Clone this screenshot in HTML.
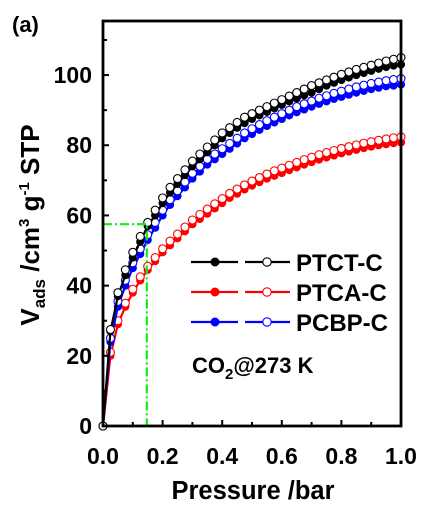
<!DOCTYPE html>
<html><head><meta charset="utf-8"><style>
body{margin:0;background:#fff}
svg text{font-family:"Liberation Sans",Arial,sans-serif;font-weight:bold}
</style></head><body>
<svg id="chart" width="435" height="513" viewBox="0 0 435 513" xmlns="http://www.w3.org/2000/svg">
<g id="plot"></g>
</svg>
<script>
const pressures=[0,0.025,0.05,0.075,0.1,0.125,0.15,0.175,0.2,0.225,0.25,0.275,0.3,0.325,0.35,0.375,0.4,0.425,0.45,0.475,0.5,0.525,0.55,0.575,0.6,0.625,0.65,0.675,0.7,0.725,0.75,0.775,0.8,0.825,0.85,0.875,0.9,0.925,0.95,0.975,1.0];
const ptctAds=[0,27,37,43,48,52.5,57,60,63.5,66.5,69,71.5,74,76,78,80,82,83.5,85,86.3,87.5,88.5,89.5,90.5,91.5,92.5,93.3,94.2,95,96,97,97.8,98.6,99.3,100,100.6,101.2,101.8,102.3,102.7,103];
const ptctDes=[0,27.5,38,44.5,49.5,54,58,61.5,65,68,70.5,73,75.5,77.5,79.5,81.5,83.5,85,86.5,88,89,90,91,92,93,94,95,96,97,97.8,98.6,99.4,100.2,100.9,101.6,102.2,102.8,103.4,104,104.5,105];
const pcbpAds=[0,24,34,40,45,49,53,56.5,60,63,65.5,68,70.5,72.5,74.5,76,77.5,79,80.5,82,83.2,84.4,85.5,86.5,87.5,88.5,89.4,90.2,91,91.8,92.5,93.2,93.8,94.4,95,95.5,96,96.4,96.8,97,97.3];
const pcbpDes=[0,25,35.5,41.5,46.5,50.5,54.5,58,61.5,64.5,67,69.5,72,74,76,77.5,79,80.5,82,83.5,84.7,85.9,87,88,89,90,91,91.8,92.6,93.4,94.1,94.8,95.4,96,96.6,97.1,97.6,98,98.4,98.7,99];
const ptcaAds=[0,20,29,34,38,41.5,44.5,47,49.5,51.5,53.5,55.5,57.5,59,60.5,62,63.5,65,66.2,67.4,68.5,69.5,70.5,71.3,72.1,72.9,73.7,74.5,75.2,75.9,76.5,77.1,77.7,78.2,78.7,79.2,79.6,80,80.3,80.6,80.8];
const ptcaDes=[0,21,30,35,39,42.5,45.5,48,50.5,52.7,54.7,56.7,58.7,60.3,61.8,63.3,64.8,66.3,67.5,68.7,69.8,70.8,71.8,72.7,73.5,74.3,75.1,75.9,76.6,77.3,77.9,78.5,79.1,79.6,80.1,80.6,81,81.4,81.8,82.1,82.4];
const xTicks=["0.0","0.2","0.4","0.6","0.8","1.0"];
const yTicks=["0","20","40","60","80","100"];
const seriesNames=["PTCT-C","PTCA-C","PCBP-C"];
const seriesColors=["#000","#ff0000","#0000ff"];
const guideP=[0.147];
const guideV=[57.5];

const X0=103,X1=401,Y0=426,Y1=21,YMAX=115.4;
const xs=p=>X0+p*(X1-X0);
const ys=v=>Y0-v/YMAX*(Y0-Y1);
const NS="http://www.w3.org/2000/svg";
const g=document.getElementById('plot');
function mk(t,a,parent){const e=document.createElementNS(NS,t);for(const k in a)e.setAttribute(k,a[k]);(parent||g).appendChild(e);return e;}

const ads=[ptctAds,ptcaAds,pcbpAds],des=[ptctDes,ptcaDes,pcbpDes];
const order=[1,2,0];
order.forEach(i=>{
  const c=seriesColors[i];
  const sg=mk('g',{});
  
  
  const pts=pressures.map((p,j)=>xs(p)+','+ys(ads[i][j])).join(' ');
  const pl=mk('polyline',{points:pts,fill:'none',stroke:c,'stroke-width':2.2},sg);
  
  
  pressures.forEach((p,j)=>{
    const m=mk('circle',{cx:xs(p),cy:ys(ads[i][j]),r:3.6,fill:c,stroke:c,'stroke-width':1},sg);
    
    
  });
  pressures.forEach((p,j)=>{
    const m=mk('circle',{cx:xs(p),cy:ys(des[i][j]),r:4,fill:'#fff',stroke:c,'stroke-width':1.1},sg);
    
    
  });
});

const gl=mk('polyline',{points:`${xs(0)},${ys(guideV[0])} ${xs(guideP[0])},${ys(guideV[0])} ${xs(guideP[0])},${ys(0)}`,fill:'none',stroke:'#11ee11','stroke-width':2.2,'stroke-dasharray':'9,3,2,3'});



const fr=mk('rect',{x:X0,y:Y1,width:X1-X0,height:Y0-Y1,fill:'none',stroke:'#000','stroke-width':2.8});



for(let k=0;k<=10;k++){
  const x=xs(k/10);
  mk('line',{x1:x,y1:Y0,x2:x,y2:Y0-(k%2?4:6),stroke:'#000','stroke-width':2});
}
xTicks.forEach((t,k)=>{
  const tx=mk('text',{x:xs(+t),y:464,'text-anchor':'middle','font-size':23},g);tx.textContent=t;
  
  
});
for(let v=10;v<=110;v+=10){
  mk('line',{x1:X0,y1:ys(v),x2:X0+(v%20?4:6),y2:ys(v),stroke:'#000','stroke-width':2});
}
yTicks.forEach(t=>{
  const ty=mk('text',{x:92,y:ys(+t)+8,'text-anchor':'end','font-size':23});ty.textContent=t;
  
  
});

const lg=mk('g',{});


[0,1,2].forEach(i=>{
  const y=262+i*30,c=seriesColors[i];
  const e=mk('g',{},lg);
  
  
  mk('line',{x1:191,y1:y,x2:238,y2:y,stroke:c,'stroke-width':2.2},e);
  mk('line',{x1:245,y1:y,x2:290,y2:y,stroke:c,'stroke-width':2.2},e);
  mk('circle',{cx:215,cy:y,r:4,fill:c,stroke:c},e);
  mk('circle',{cx:267,cy:y,r:4.2,fill:'#fff',stroke:c,'stroke-width':1.1},e);
  const t=mk('text',{x:296,y:y+9,'font-size':24},e);t.textContent=seriesNames[i];
});
</script>
<div style="position:absolute;left:0;top:0;width:435px;height:513px;pointer-events:none">
<svg width="435" height="513" xmlns="http://www.w3.org/2000/svg">
<text x="12" y="32" font-size="22">(a)</text>
<text x="192" y="373" font-size="22">CO<tspan font-size="15" dy="6">2</tspan><tspan dy="-6">@273 K</tspan></text>
<text x="253" y="499" font-size="25.5" text-anchor="middle">Pressure /bar</text>
<text transform="translate(39,225) rotate(-90)" font-size="26" text-anchor="middle">V<tspan font-size="17" dy="6">ads</tspan><tspan dy="-6"> /cm</tspan><tspan font-size="15" dy="-10">3</tspan><tspan dy="10"> g</tspan><tspan font-size="15" dy="-10">-1</tspan><tspan dy="10"> STP</tspan></text>
</svg></div>
</body></html>
